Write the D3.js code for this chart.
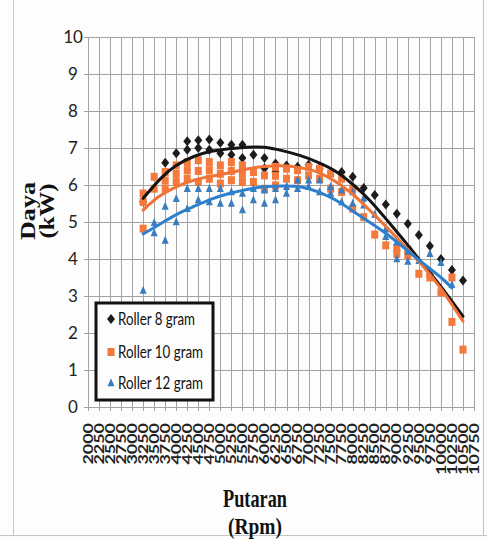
<!DOCTYPE html>
<html>
<head>
<meta charset="utf-8">
<script src="https://cdn.jsdelivr.net/npm/d3@7"></script>
<style>
  html, body { margin: 0; padding: 0; background: #fdfdfd; }
  svg { display: block; }
</style>
</head>
<body>
<svg id="chart" width="487" height="539"></svg>
<script>
// Engine speed (rpm) tick labels and power (kW) ticks
const rpmTicks = [2000, 2250, 2500, 2750, 3000, 3250, 3500, 3750, 4000, 4250, 4500, 4750,
  5000, 5250, 5500, 5750, 6000, 6250, 6500, 6750, 7000, 7250, 7500, 7750, 8000, 8250,
  8500, 8750, 9000, 9250, 9500, 9750, 10000, 10250, 10500, 10750];
const powerTicks = [0, 1, 2, 3, 4, 5, 6, 7, 8, 9, 10];

const seriesNames = ["Roller 8 gram", "Roller 10 gram", "Roller 12 gram"];

// Measured power [rpm, kW] per roller weight
const roller8 = [
  [3250, 5.55], [3750, 6.6], [4000, 6.86], [4250, 7.18], [4250, 6.95], [4500, 7.21], [4500, 7.0],
  [4750, 7.23], [4750, 6.95], [5000, 7.14], [5000, 6.86], [5250, 7.09], [5250, 6.82],
  [5500, 7.09], [5500, 6.73], [5750, 6.82], [6000, 6.73], [6000, 6.45], [6250, 6.58], [6250, 6.35],
  [6500, 6.53], [6750, 6.49], [7000, 6.55], [7250, 6.45], [7750, 6.35], [8000, 6.22],
  [8250, 5.92], [8500, 5.73], [8750, 5.47], [9000, 5.22], [9250, 4.95], [9500, 4.65],
  [9750, 4.35], [10000, 4.0], [10250, 3.7], [10500, 3.42]
];
const roller10 = [
  [3250, 5.77], [3250, 5.54], [3250, 4.82], [3500, 6.22], [3500, 5.9],
  [3750, 6.35], [3750, 6.12], [3750, 5.9], [4000, 6.53], [4000, 6.3], [4000, 6.08],
  [4250, 6.62], [4250, 6.4], [4250, 6.17], [4500, 6.67], [4500, 6.38], [4500, 6.08],
  [4750, 6.62], [4750, 6.4], [4750, 6.17], [5000, 6.53], [5000, 6.3], [5000, 6.04],
  [5250, 6.62], [5250, 6.38], [5250, 6.13], [5500, 6.53], [5500, 6.3], [5500, 6.08],
  [5750, 6.35], [5750, 6.08], [6000, 6.26], [6000, 5.9], [6250, 6.49], [6250, 6.25], [6250, 5.99],
  [6500, 6.44], [6500, 6.17], [6750, 6.4], [6750, 6.13], [7000, 6.49], [7000, 6.26],
  [7250, 6.44], [7250, 6.17], [7500, 6.31], [7500, 5.9], [7750, 6.17], [7750, 5.81],
  [8000, 5.9], [8000, 5.36], [8250, 5.13], [8500, 4.66], [8750, 4.37], [9000, 4.3], [9000, 4.14],
  [9250, 4.25], [9250, 4.09], [9500, 3.6], [9750, 3.6], [9750, 3.5], [10000, 3.1],
  [10250, 3.5], [10250, 2.3], [10500, 1.55]
];
const roller12 = [
  [3250, 3.15], [3500, 4.98], [3500, 4.7], [3750, 5.42], [3750, 4.5], [4000, 5.63], [4000, 5.0],
  [4250, 5.9], [4250, 5.36], [4500, 5.9], [4500, 5.59], [4750, 5.9], [4750, 5.54],
  [5000, 5.9], [5000, 5.5], [5250, 5.81], [5250, 5.5], [5500, 5.77], [5500, 5.32],
  [5750, 5.9], [5750, 5.59], [6000, 5.86], [6000, 5.5], [6250, 5.9], [6250, 5.59],
  [6500, 5.95], [6500, 5.77], [6750, 6.13], [6750, 5.9], [7000, 6.13], [7000, 5.95],
  [7250, 6.13], [7250, 5.81], [7500, 5.95], [7500, 5.77], [7750, 5.86], [7750, 5.54],
  [8000, 5.81], [8000, 5.5], [8250, 5.64], [8250, 5.45], [8500, 5.2], [8750, 4.8], [8750, 4.6],
  [9000, 4.45], [9000, 4.0], [9250, 4.2], [9250, 3.93], [9500, 3.95], [9750, 4.14],
  [10000, 3.9], [10250, 3.3]
];

// Polynomial trendlines, sampled [rpm, kW]
const trend8 = [
  [3250, 5.64], [3650, 6.18], [4000, 6.53], [4400, 6.77], [4800, 6.91], [5200, 6.98],
  [5600, 7.02], [6000, 7.02], [6400, 6.93], [6800, 6.8], [7200, 6.62], [7600, 6.38],
  [8000, 6.02], [8400, 5.57], [8800, 5.02], [9200, 4.45], [9600, 3.85], [10000, 3.25], [10500, 2.45]
];
const trend10 = [
  [3250, 5.32], [3600, 5.68], [4000, 5.95], [4400, 6.13], [4800, 6.24], [5200, 6.33],
  [5600, 6.43], [6000, 6.5], [6400, 6.52], [6800, 6.47], [7200, 6.35], [7600, 6.1],
  [8000, 5.75], [8400, 5.3], [8800, 4.82], [9200, 4.32], [9600, 3.8], [10000, 3.2], [10500, 2.32]
];
const trend12 = [
  [3250, 4.68], [3600, 4.92], [4000, 5.2], [4400, 5.42], [4800, 5.62], [5200, 5.77],
  [5600, 5.88], [6000, 5.95], [6400, 5.97], [6800, 5.95], [7200, 5.82], [7600, 5.6],
  [8000, 5.3], [8400, 4.98], [8800, 4.65], [9200, 4.27], [9600, 3.88], [10000, 3.5], [10250, 3.22]
];

const colors = { r8: "#1c1c1c", r10: "#f4793b", r12: "#3a7cbd" };
const lineColors = { r8: "#141414", r10: "#f0743a", r12: "#2f80cc" };

const svg = d3.select("#chart");

// Paper edges
const edge = svg.append("g").attr("stroke", "#c4c4c4").attr("stroke-width", 1);
edge.append("line").attr("x1", 13.5).attr("x2", 13.5).attr("y1", 0).attr("y2", 535);
edge.append("line").attr("x1", 483.5).attr("x2", 483.5).attr("y1", 0).attr("y2", 535);
edge.append("line").attr("x1", 0).attr("x2", 487).attr("y1", 535.5).attr("y2", 535.5);

const x = d3.scaleLinear().domain([2000, 10750]).range([88, 474]);
const y = d3.scaleLinear().domain([0, 10]).range([407, 37]);

// Grid
const grid = svg.append("g").attr("stroke", "#a3a3a3").attr("stroke-width", 1);
grid.selectAll(".v").data(rpmTicks).join("line")
  .attr("x1", d => Math.round(x(d)) + 0.5).attr("x2", d => Math.round(x(d)) + 0.5)
  .attr("y1", y(10)).attr("y2", y(0) + 4);
grid.selectAll(".h").data(powerTicks).join("line")
  .attr("x1", x(2000) - 4).attr("x2", x(10750))
  .attr("y1", d => Math.round(y(d)) + 0.5).attr("y2", d => Math.round(y(d)) + 0.5);

// Y tick labels
svg.append("g").selectAll("text").data(powerTicks).join("text")
  .attr("x", 73).attr("y", d => y(d)).attr("dy", "0.36em")
  .attr("text-anchor", "middle")
  .attr("font-family", "Lato, 'Open Sans', sans-serif").attr("font-size", 17)
  .attr("fill", "#222")
  .text(d => d);

// X tick labels, rotated
svg.append("g").selectAll("text").data(rpmTicks).join("text")
  .attr("transform", d => `translate(${x(d)},423) rotate(-90)`)
  .attr("dy", "0.36em")
  .attr("text-anchor", "end")
  .attr("font-family", "Lato, 'Open Sans', sans-serif").attr("font-size", 13)
  .attr("font-weight", "bold")
  .attr("fill", "#222")
  .attr("textLength", d => String(d).length * 10.4)
  .attr("lengthAdjust", "spacingAndGlyphs")
  .text(d => d);

// Marker shapes
const diamond = (w, h) => `M0,${-h / 2}L${w / 2},0L0,${h / 2}L${-w / 2},0Z`;
const square = (w, h) => `M${-w / 2},${-h / 2}h${w}v${h}h${-w}Z`;
const triangle = (w, h) => `M0,${-h * 0.6}L${w / 2},${h * 0.4}L${-w / 2},${h * 0.4}Z`;

const plot = svg.append("g");
plot.append("g").selectAll("path").data(roller8).join("path")
  .attr("transform", d => `translate(${x(d[0])},${y(d[1])})`)
  .attr("d", diamond(8, 10)).attr("fill", colors.r8);
plot.append("g").selectAll("path").data(roller10).join("path")
  .attr("transform", d => `translate(${x(d[0])},${y(d[1])})`)
  .attr("d", square(7, 8)).attr("fill", colors.r10);
plot.append("g").selectAll("path").data(roller12).join("path")
  .attr("transform", d => `translate(${x(d[0])},${y(d[1])})`)
  .attr("d", triangle(7, 8)).attr("fill", colors.r12);

// Trendlines
const line = d3.line().x(d => x(d[0])).y(d => y(d[1])).curve(d3.curveNatural);
[[trend8, lineColors.r8], [trend10, lineColors.r10], [trend12, lineColors.r12]].forEach(([pts, c]) => {
  plot.append("path").attr("d", line(pts)).attr("fill", "none")
    .attr("stroke", c).attr("stroke-width", 3).attr("stroke-linecap", "round");
});

// Legend
const lg = svg.append("g");
lg.append("rect").attr("x", 96).attr("y", 303).attr("width", 117).attr("height", 97)
  .attr("fill", "#fdfdfd").attr("stroke", "#111").attr("stroke-width", 3);
const legendShapes = [diamond(8, 10), square(7, 8), triangle(7, 8)];
const legendColors = [colors.r8, colors.r10, colors.r12];
const legendY = [319, 352, 383];
const legendLen = [77, 85, 85];
seriesNames.forEach((name, i) => {
  lg.append("path").attr("transform", `translate(111,${legendY[i]})`)
    .attr("d", legendShapes[i]).attr("fill", legendColors[i]);
  lg.append("text").attr("x", 118).attr("y", legendY[i]).attr("dy", "0.36em")
    .attr("font-family", "Lato, 'Open Sans', sans-serif").attr("font-size", 18)
    .attr("fill", "#111")
    .attr("textLength", legendLen[i]).attr("lengthAdjust", "spacingAndGlyphs")
    .text(name);
});

// Axis titles
const serif = "'Liberation Serif', 'Times New Roman', serif";
svg.append("text").attr("transform", "translate(35,211) rotate(-90)")
  .attr("text-anchor", "middle").attr("font-family", serif).attr("font-weight", "bold")
  .attr("font-size", 22).attr("fill", "#111")
  .attr("textLength", 58).attr("lengthAdjust", "spacingAndGlyphs").text("Daya");
svg.append("text").attr("transform", "translate(54,211) rotate(-90)")
  .attr("text-anchor", "middle").attr("font-family", serif).attr("font-weight", "bold")
  .attr("font-size", 22).attr("fill", "#111")
  .attr("textLength", 55).attr("lengthAdjust", "spacingAndGlyphs").text("(kW)");
svg.append("text").attr("x", 255).attr("y", 507)
  .attr("text-anchor", "middle").attr("font-family", serif).attr("font-weight", "bold")
  .attr("font-size", 25).attr("fill", "#111")
  .attr("textLength", 64).attr("lengthAdjust", "spacingAndGlyphs").text("Putaran");
svg.append("text").attr("x", 255).attr("y", 534)
  .attr("text-anchor", "middle").attr("font-family", serif).attr("font-weight", "bold")
  .attr("font-size", 23).attr("fill", "#111")
  .attr("textLength", 54).attr("lengthAdjust", "spacingAndGlyphs").text("(Rpm)");
</script>
</body>
</html>
